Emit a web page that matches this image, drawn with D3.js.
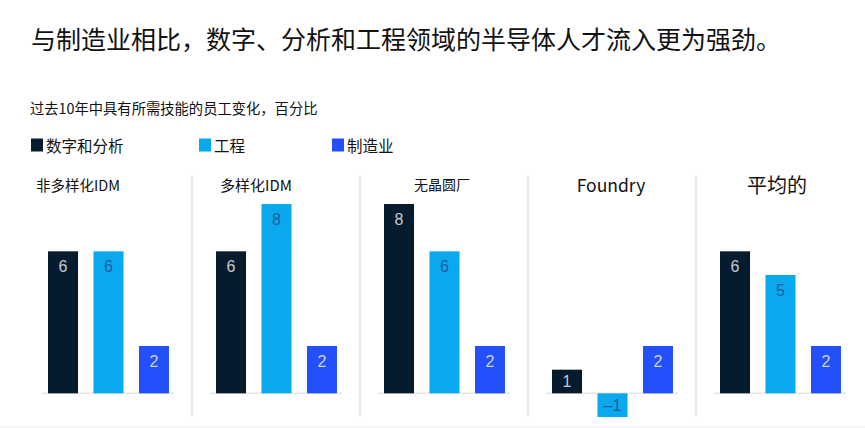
<!DOCTYPE html>
<html>
<head>
<meta charset="utf-8">
<script src="https://cdn.jsdelivr.net/npm/d3@7"></script>
<style>
  body { margin: 0; background: #fff; }
  text { font-family: "Noto Sans CJK SC", "Noto Sans", sans-serif; }
</style>
</head>
<body>
<script>
const w = 865;
const h = 428;

// data
const panels = ["非多样化IDM", "多样化IDM", "无晶圆厂", "Foundry", "平均的"];
const series = ["数字和分析", "工程", "制造业"];
const digital = [6, 6, 8, 1, 6];
const engineering = [6, 8, 6, -1, 5];
const manufacturing = [2, 2, 2, 2, 2];
const title = "与制造业相比，数字、分析和工程领域的半导体人才流入更为强劲。";
const subtitle = "过去10年中具有所需技能的员工变化，百分比";

const colors = ["#061c2e", "#0aa8ec", "#2450fb"];
const labelColors = ["#c3cad4", "#1f5c9e", "#c9d3ff"];

// rows for drawing
const rows = [];
panels.forEach((p, i) => {
  [digital, engineering, manufacturing].forEach((arr, j) => {
    rows.push({ panel: p, series: series[j], value: arr[i], j: j });
  });
});

const svg = d3.select("body").append("svg").attr("width", w).attr("height", h);

// scales
const x0 = d3.scaleBand().domain(panels).range([24, 864]);
const x1 = d3.scaleBand().domain(series).range([19, 150]).paddingInner(0.34).paddingOuter(0.11);
const y = d3.scaleLinear().domain([-1, 8]).range([417, 204]);

// heading
svg.append("text")
  .attr("x", 31).attr("y", 38)
  .attr("dominant-baseline", "central")
  .style("font-size", "25px").style("fill", "#111")
  .text(title);

svg.append("text")
  .attr("x", 30).attr("y", 107)
  .attr("dominant-baseline", "central")
  .style("font-size", "14.3px").style("fill", "#111")
  .text(subtitle);

// legend
const legendX = [31, 199, 332];
const legend = svg.selectAll(".legend").data(series).enter().append("g")
  .attr("class", "legend")
  .attr("transform", (d, i) => "translate(" + legendX[i] + ",145)");
legend.append("rect")
  .attr("x", 0).attr("y", -6.5).attr("width", 12).attr("height", 13)
  .style("fill", (d, i) => colors[i]);
legend.append("text")
  .attr("x", 15).attr("y", 0)
  .attr("dominant-baseline", "central")
  .style("font-size", "15.5px").style("fill", "#111")
  .text((d) => d);

// dividers
svg.selectAll(".divider").data(panels.slice(1)).enter().append("line")
  .attr("class", "divider")
  .attr("x1", (d) => x0(d)).attr("x2", (d) => x0(d))
  .attr("y1", 175).attr("y2", 417)
  .style("stroke", "#d9d9d9").style("stroke-width", 1.2);

// bottom frame line
svg.append("line")
  .attr("x1", 0).attr("x2", w).attr("y1", 427).attr("y2", 427)
  .style("stroke", "#ececec").style("stroke-width", 1);

// panel titles
const titleStyle = [
  { size: 14.5, anchor: "start", dx: 12 },
  { size: 15, anchor: "start", dx: 28 },
  { size: 14, anchor: "middle", dx: 82 },
  { size: 17.5, anchor: "middle", dx: 83 },
  { size: 20, anchor: "middle", dx: 81 }
];
svg.selectAll(".ptitle").data(panels).enter().append("text")
  .attr("class", "ptitle")
  .attr("x", (d, i) => x0(d) + titleStyle[i].dx)
  .attr("y", 184)
  .attr("dominant-baseline", "central")
  .attr("text-anchor", (d, i) => titleStyle[i].anchor)
  .style("font-size", (d, i) => titleStyle[i].size + "px")
  .style("fill", "#111")
  .text((d) => d);

// baselines
svg.selectAll(".base").data(panels).enter().append("line")
  .attr("class", "base")
  .attr("x1", (d) => x0(d) + 18).attr("x2", (d) => x0(d) + 150)
  .attr("y1", y(0)).attr("y2", y(0))
  .style("stroke", "#e6e6e6").style("stroke-width", 1.5);

// bars
svg.selectAll(".bar").data(rows).enter().append("rect")
  .attr("class", "bar")
  .attr("x", (d) => x0(d.panel) + x1(d.series))
  .attr("width", x1.bandwidth())
  .attr("y", (d) => y(Math.max(0, d.value)))
  .attr("height", (d) => Math.abs(y(d.value) - y(0)))
  .style("fill", (d) => colors[d.j]);

// value labels
svg.selectAll(".val").data(rows).enter().append("text")
  .attr("class", "val")
  .attr("x", (d) => x0(d.panel) + x1(d.series) + x1.bandwidth() / 2)
  .attr("y", (d) => {
    const top = y(Math.max(0, d.value));
    const bottom = y(Math.min(0, d.value));
    return Math.min(top + 21, (top + bottom) / 2 + 5.5);
  })
  .attr("text-anchor", "middle")
  .style("font-family", "'Liberation Sans', Arial, sans-serif")
  .style("font-size", "16px")
  .style("fill", (d) => labelColors[d.j])
  .text((d) => (d.value < 0 ? "\u2013" + Math.abs(d.value) : d.value));
</script>
</body>
</html>
